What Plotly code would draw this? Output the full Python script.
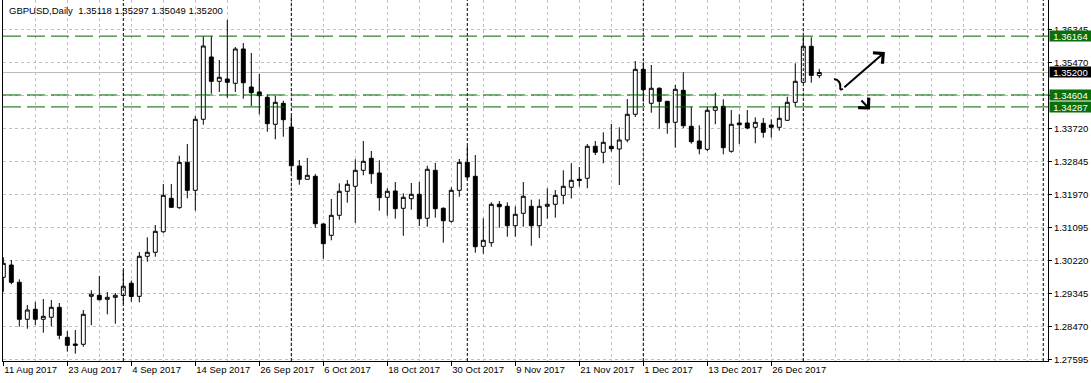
import plotly.graph_objects as go

# ---------------- data ----------------
symbol_title = "GBPUSD,Daily\u00a0\u00a01.35118 1.35297 1.35049 1.35200"

open_ = [1.29769, 1.30095, 1.29637, 1.28656, 1.28921, 1.28656, 1.28709, 1.28974, 1.28178, 1.28001,
         1.27993, 1.29265, 1.29292, 1.29186, 1.29239, 1.29287, 1.29613, 1.29265, 1.30326, 1.30432,
         1.30978, 1.31864, 1.31615, 1.32818, 1.32076, 1.33959, 1.35611, 1.34966, 1.35027, 1.34913,
         1.35823, 1.34815, 1.34683, 1.34542, 1.33826, 1.34383, 1.33754, 1.32720, 1.32368, 1.32447,
         1.31183, 1.30883, 1.31413, 1.32050, 1.32182, 1.32606, 1.32925, 1.32535, 1.31890, 1.32058,
         1.31599, 1.31853, 1.31970, 1.31334, 1.32606, 1.31599, 1.31254, 1.32076, 1.32818, 1.32447,
         1.30591, 1.30687, 1.31705, 1.31652, 1.31137, 1.31466, 1.31652, 1.31137, 1.31652, 1.31705,
         1.31943, 1.32156, 1.32370, 1.32394, 1.33243, 1.33084, 1.33243, 1.33171, 1.33410, 1.34091,
         1.35284, 1.34383, 1.34781, 1.34436, 1.33879, 1.34728, 1.33773, 1.33383, 1.33163, 1.34197,
         1.34303, 1.33110, 1.33861, 1.33861, 1.33747, 1.33853, 1.33808, 1.33747, 1.33932, 1.34409,
         1.34940, 1.35894, 1.35118]
high = [1.30300, 1.30228, 1.29716, 1.29035, 1.29114, 1.29194, 1.29167, 1.29088, 1.28345, 1.28372,
        1.28902, 1.29425, 1.29804, 1.29379, 1.29353, 1.29963, 1.29684, 1.30440, 1.30830, 1.31156,
        1.32243, 1.32243, 1.32994, 1.33304, 1.34046, 1.36164, 1.36164, 1.35531, 1.36592, 1.35876,
        1.35982, 1.35717, 1.35160, 1.34621, 1.34576, 1.34452, 1.34046, 1.32879, 1.32933, 1.32508,
        1.31201, 1.31845, 1.32262, 1.32349, 1.32898, 1.33383, 1.33118, 1.32872, 1.32129, 1.32296,
        1.31997, 1.32270, 1.32296, 1.32728, 1.32800, 1.31625, 1.32156, 1.32906, 1.33251, 1.33012,
        1.31334, 1.31758, 1.31792, 1.31758, 1.31652, 1.32296, 1.31827, 1.31837, 1.32129, 1.32084,
        1.32606, 1.32795, 1.32694, 1.33304, 1.33383, 1.33614, 1.33834, 1.33747, 1.34497, 1.35504,
        1.35470, 1.35398, 1.34807, 1.34444, 1.34868, 1.35205, 1.34293, 1.33800, 1.34293, 1.34664,
        1.34489, 1.34205, 1.34091, 1.34205, 1.34012, 1.33993, 1.33959, 1.34293, 1.34558, 1.35443,
        1.36164, 1.36133, 1.35297]
low = [1.29387, 1.29584, 1.28459, 1.28406, 1.28504, 1.28300, 1.28470, 1.28125, 1.27797, 1.27744,
       1.27929, 1.28497, 1.29159, 1.28788, 1.28539, 1.29056, 1.29122, 1.29106, 1.30183, 1.30315,
       1.30936, 1.31607, 1.31588, 1.31864, 1.31535, 1.33815, 1.34637, 1.34683, 1.34531, 1.34683,
       1.34505, 1.34311, 1.34091, 1.33630, 1.33428, 1.33497, 1.32543, 1.32225, 1.32360, 1.31084,
       1.30262, 1.30750, 1.31297, 1.31747, 1.31209, 1.32474, 1.32251, 1.31535, 1.31403, 1.31323,
       1.30872, 1.31562, 1.31129, 1.31111, 1.31350, 1.30687, 1.31217, 1.31906, 1.32368, 1.30422,
       1.30395, 1.30581, 1.31084, 1.30846, 1.30846, 1.31111, 1.30607, 1.30811, 1.31323, 1.31350,
       1.31705, 1.31859, 1.32172, 1.32129, 1.33012, 1.32792, 1.33100, 1.32217, 1.33349, 1.34020,
       1.34425, 1.34134, 1.33709, 1.33577, 1.33206, 1.33728, 1.33312, 1.33031, 1.33118, 1.33826,
       1.33031, 1.33073, 1.33304, 1.33693, 1.33322, 1.33471, 1.33471, 1.33656, 1.33914, 1.34293,
       1.34921, 1.34929, 1.35049]
close = [1.30140, 1.29637, 1.28656, 1.28902, 1.28656, 1.28735, 1.28974, 1.28231, 1.27966, 1.27966,
         1.28788, 1.29319, 1.29175, 1.29239, 1.29292, 1.29531, 1.29260, 1.30326, 1.30432, 1.30989,
         1.31943, 1.31625, 1.32818, 1.32076, 1.33959, 1.35902, 1.34966, 1.35072, 1.34940, 1.35823,
         1.34929, 1.34664, 1.34584, 1.33842, 1.34409, 1.33948, 1.32728, 1.32368, 1.32474, 1.31190,
         1.30660, 1.31413, 1.32050, 1.32235, 1.32606, 1.32845, 1.32516, 1.31880, 1.32050, 1.31588,
         1.31890, 1.31970, 1.31323, 1.32633, 1.31588, 1.31270, 1.32076, 1.32818, 1.32429, 1.30581,
         1.30750, 1.31705, 1.31641, 1.31137, 1.31440, 1.31917, 1.31137, 1.31652, 1.31705, 1.31943,
         1.32182, 1.32341, 1.32339, 1.33243, 1.33084, 1.33349, 1.33179, 1.33410, 1.34091, 1.35284,
         1.34743, 1.34781, 1.34436, 1.33868, 1.34754, 1.33789, 1.33365, 1.33179, 1.34197, 1.34293,
         1.33206, 1.33826, 1.33815, 1.33728, 1.33879, 1.33614, 1.33747, 1.33985, 1.34409, 1.34966,
         1.35894, 1.35125, 1.35200]

# x-axis date labels and the bar each one sits on
date_tick_bars = [0, 8, 16, 24, 32, 40, 48, 56, 64, 72, 80, 88, 96]
date_tick_labels = ["11 Aug 2017", "23 Aug 2017", "4 Sep 2017", "14 Sep 2017", "26 Sep 2017",
                    "6 Oct 2017", "18 Oct 2017", "30 Oct 2017", "9 Nov 2017", "21 Nov 2017",
                    "1 Dec 2017", "13 Dec 2017", "26 Dec 2017"]

# price-axis ticks
price_ticks = [1.27595, 1.28470, 1.29345, 1.30220, 1.31095, 1.31970,
               1.32845, 1.33720, 1.34595, 1.35470, 1.36345]

# month separators (bar index of first bar of each period)
separator_bars = [15, 36, 58, 80, 100, 130]

# horizontal levels
green_levels = [1.36164, 1.34604, 1.34287]
bid_level = 1.35200

# hand-drawn arrows (bar position, price)
squiggle_pts = [(103.84, 1.35019), (104.35, 1.35035), (104.70, 1.34900), (104.62, 1.34820),
                (104.55, 1.34750), (104.75, 1.34730), (104.95, 1.34772)]
arrow_up = ((104.95, 1.34772), (110.20, 1.35743))
arrow_down = ((107.09, 1.34497), (108.34, 1.34218))

# ---------------- figure ----------------
bars = list(range(len(open_)))

GRID = "#c0c0c0"
GREEN_LINE = "#006400"
GREEN_BOX = "#0a6e0a"
FONT = "Liberation Sans"

fig = go.Figure()
fig.add_trace(go.Candlestick(
    x=bars, open=open_, high=high, low=low, close=close,
    increasing=dict(line=dict(color="black", width=1), fillcolor="white"),
    decreasing=dict(line=dict(color="black", width=1), fillcolor="black"),
    whiskerwidth=0, showlegend=False, hoverinfo="skip",
))

shapes = []
for b in separator_bars:
    shapes.append(dict(type="line", xref="x", yref="paper", x0=b, x1=b, y0=0, y1=1,
                       line=dict(color="black", width=1, dash="3px,2px"), layer="above"))
shapes.append(dict(type="line", xref="paper", yref="y", x0=0, x1=1, y0=bid_level, y1=bid_level,
                   line=dict(color="#bcbcbc", width=1), layer="below"))
for lv in green_levels:
    shapes.append(dict(type="line", xref="paper", yref="y", x0=0, x1=1, y0=lv, y1=lv,
                       line=dict(color=GREEN_LINE, width=1, dash="18px,6px"), layer="above"))

# squiggle path
p = squiggle_pts
path = "M{},{} C{},{} {},{} {},{} C{},{} {},{} {},{}".format(
    p[0][0], p[0][1], p[1][0], p[1][1], p[2][0], p[2][1], p[3][0], p[3][1],
    p[4][0], p[4][1], p[5][0], p[5][1], p[6][0], p[6][1])
shapes.append(dict(type="path", xref="x", yref="y", path=path,
                   line=dict(color="black", width=2), layer="above"))

annotations = []
for (tail, head) in (arrow_up, arrow_down):
    annotations.append(dict(x=head[0], y=head[1], ax=tail[0], ay=tail[1],
                            xref="x", yref="y", axref="x", ayref="y",
                            text="", showarrow=True, arrowhead=4, arrowsize=1.4,
                            arrowwidth=2, arrowcolor="black"))

annotations.append(dict(x=0, y=1, xref="paper", yref="paper", xanchor="left", yanchor="top",
                        xshift=4, yshift=-3, text=symbol_title, showarrow=False,
                        font=dict(family=FONT, size=9.5, color="black")))

for lv in green_levels:
    annotations.append(dict(x=1, y=lv, xref="paper", yref="y", xanchor="left", yanchor="middle",
                            xshift=1, text="{:.5f}".format(lv), showarrow=False,
                            bgcolor=GREEN_BOX, width=41, height=10, borderpad=0, align="center",
                            font=dict(family=FONT, size=9.5, color="white")))
annotations.append(dict(x=1, y=bid_level, xref="paper", yref="y", xanchor="left", yanchor="middle",
                        xshift=1, text="{:.5f}".format(bid_level), showarrow=False,
                        bgcolor="black", width=41, height=10, borderpad=0, align="center",
                        font=dict(family=FONT, size=9.5, color="white")))

fig.update_layout(
    width=1091, height=383,
    margin=dict(l=3, r=43, t=0, b=22),
    paper_bgcolor="white", plot_bgcolor="white",
    showlegend=False,
    shapes=shapes, annotations=annotations,
    font=dict(family=FONT, size=9.5, color="black"),
    xaxis=dict(
        range=[-0.04, 130.59], rangeslider=dict(visible=False),
        tickmode="array", tickvals=date_tick_bars, ticktext=date_tick_labels,
        ticks="outside", ticklen=4, tickcolor="black", ticklabelposition="outside right",
        showline=True, linecolor="black", linewidth=1,
        showgrid=True, gridcolor=GRID, griddash="3px,3px", gridwidth=1,
        minor=dict(tickmode="linear", tick0=0, dtick=4, showgrid=True, gridcolor=GRID,
                   griddash="3px,3px", gridwidth=1, ticks=""),
        zeroline=False, tickfont=dict(family=FONT, size=9.5, color="black"),
    ),
    yaxis=dict(
        side="right", range=[1.27550, 1.37122],
        tickmode="array", tickvals=price_ticks, ticktext=["{:.5f}".format(v) for v in price_ticks],
        ticks="outside", ticklen=3, tickcolor="black",
        showline=True, linecolor="black", linewidth=1, mirror=True,
        showgrid=True, gridcolor=GRID, griddash="3px,3px", gridwidth=1,
        zeroline=False, tickfont=dict(family=FONT, size=9.5, color="black"),
    ),
)

fig.write_html("out.html")
